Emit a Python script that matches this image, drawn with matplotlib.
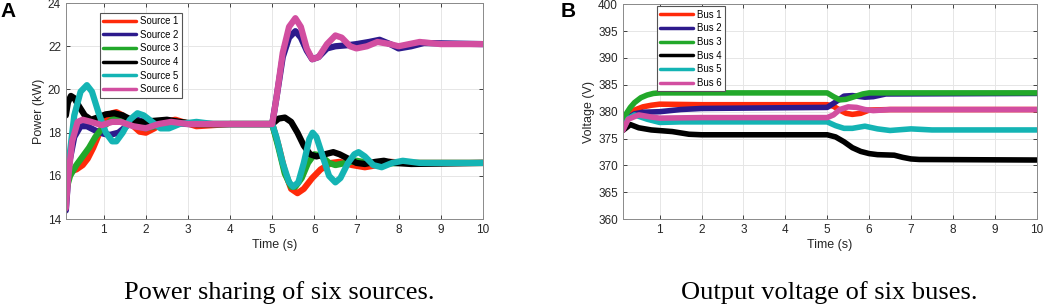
import matplotlib
matplotlib.use("Agg")
import matplotlib.pyplot as plt

# colours (MATLAB-ish)
colors = ["#ff2a0a", "#2d1a8c", "#22a82a", "#000000", "#14b4b4", "#d24ea0"]

# ---- Panel A: power of six sources (kW) ----
source_labels = ["Source 1", "Source 2", "Source 3", "Source 4", "Source 5", "Source 6"]

t_s1 = [0.1, 0.2, 0.35, 0.5, 0.62, 0.75, 0.9, 1.05, 1.2, 1.3, 1.45, 1.65, 1.85, 2.0, 2.2, 2.45, 2.7, 2.95, 3.2, 3.6, 4.0,
        5.0, 5.15, 5.3, 5.45, 5.6, 5.75, 5.95, 6.15, 6.4, 6.6, 6.9, 7.2, 7.5, 7.8, 8.2, 10]
p_s1 = [15.6, 16.2, 16.3, 16.5, 16.8, 17.3, 18.0, 18.6, 18.9, 18.95, 18.8, 18.4, 18.05, 18.0, 18.2, 18.5, 18.6, 18.45, 18.3, 18.35, 18.4,
        18.4, 17.4, 16.2, 15.4, 15.2, 15.4, 15.9, 16.3, 16.6, 16.65, 16.5, 16.4, 16.5, 16.65, 16.6, 16.6]

t_s2 = [0.1, 0.18, 0.3, 0.45, 0.6, 0.8, 1.0, 1.15, 1.35, 1.6, 1.8, 2.0, 2.2, 2.5, 3.0,
        5.0, 5.1, 5.25, 5.4, 5.55, 5.68, 5.82, 5.95, 6.1, 6.3, 6.5, 6.8, 7.0, 7.3, 7.55, 7.8, 8.0, 8.3, 8.6, 10]
p_s2 = [14.4, 16.6, 17.8, 18.3, 18.3, 18.1, 17.95, 17.9, 18.0, 18.4, 18.6, 18.45, 18.3, 18.45, 18.4,
        18.4, 19.6, 21.5, 22.4, 22.7, 22.4, 21.8, 21.4, 21.5, 21.9, 22.0, 22.05, 22.1, 22.2, 22.3, 22.1, 21.9, 22.0, 22.15, 22.1]

t_s3 = [0.1, 0.2, 0.35, 0.5, 0.65, 0.8, 1.0, 1.2, 1.35, 1.55, 1.8, 2.0, 2.3, 2.7, 3.2,
        5.0, 5.15, 5.3, 5.45, 5.55, 5.7, 5.85, 6.0, 6.15, 6.35, 6.5, 6.75, 7.0, 7.3, 7.6, 8.0, 10]
p_s3 = [15.3, 16.0, 16.5, 16.9, 17.3, 17.8, 18.3, 18.6, 18.7, 18.6, 18.3, 18.2, 18.35, 18.5, 18.4,
        18.4, 17.3, 16.1, 15.5, 15.5, 15.9, 16.6, 17.0, 16.95, 16.6, 16.5, 16.6, 16.7, 16.6, 16.55, 16.6, 16.6]

t_s4 = [0.1, 0.15, 0.22, 0.3, 0.42, 0.55, 0.7, 0.85, 1.05, 1.25, 1.45, 1.7, 1.9, 2.2, 2.5, 2.8, 3.2,
        5.0, 5.15, 5.3, 5.45, 5.6, 5.75, 5.9, 6.05, 6.25, 6.45, 6.6, 6.8, 7.0, 7.2, 7.45, 7.65, 7.9, 8.3, 10]
p_s4 = [18.8, 19.4, 19.7, 19.6, 19.2, 18.8, 18.6, 18.7, 18.85, 18.9, 18.8, 18.55, 18.5, 18.55, 18.6, 18.5, 18.4,
        18.4, 18.65, 18.7, 18.5, 18.0, 17.4, 17.0, 16.9, 17.0, 17.1, 17.0, 16.8, 16.6, 16.55, 16.65, 16.7, 16.6, 16.55, 16.6]

t_s5 = [0.1, 0.18, 0.3, 0.45, 0.6, 0.72, 0.88, 1.05, 1.2, 1.3, 1.45, 1.62, 1.8, 1.95, 2.15, 2.35, 2.55, 2.8, 3.2, 3.6,
        5.0, 5.1, 5.25, 5.4, 5.5, 5.62, 5.75, 5.88, 5.96, 6.05, 6.2, 6.35, 6.5, 6.62, 6.8, 6.95, 7.05, 7.2, 7.4, 7.6, 7.85, 8.1, 8.5, 10]
p_s5 = [15.0, 16.8, 18.8, 19.9, 20.2, 19.9, 18.9, 18.0, 17.6, 17.6, 18.0, 18.6, 18.9, 18.8, 18.5, 18.2, 18.2, 18.4, 18.5, 18.4,
        18.4, 17.8, 16.6, 15.7, 15.5, 15.7, 16.6, 17.7, 18.0, 17.8, 16.9, 16.0, 15.7, 15.9, 16.6, 17.0, 17.1, 16.9, 16.5, 16.4, 16.6, 16.7, 16.6, 16.6]

t_s6 = [0.1, 0.15, 0.25, 0.38, 0.5, 0.7, 0.95, 1.2, 1.4, 1.7, 2.0, 2.3, 2.6, 3.0,
        5.0, 5.1, 5.25, 5.4, 5.55, 5.68, 5.82, 5.95, 6.1, 6.3, 6.5, 6.65, 6.85, 7.0, 7.25, 7.5, 7.8, 8.0, 8.5, 9.0, 10]
p_s6 = [14.5, 15.8, 17.6, 18.5, 18.6, 18.5, 18.35, 18.5, 18.5, 18.3, 18.2, 18.4, 18.5, 18.4,
        18.4, 19.6, 21.7, 22.9, 23.3, 22.9, 21.9, 21.4, 21.5, 22.1, 22.5, 22.4, 22.0, 21.9, 22.0, 22.2, 22.1, 22.0, 22.2, 22.1, 22.1]

t_a = [t_s1, t_s2, t_s3, t_s4, t_s5, t_s6]
p_a = [p_s1, p_s2, p_s3, p_s4, p_s5, p_s6]

# ---- Panel B: bus voltages (V) ----
bus_labels = ["Bus 1", "Bus 2", "Bus 3", "Bus 4", "Bus 5", "Bus 6"]

t_b1 = [0.12, 0.25, 0.4, 0.6, 0.8, 1.0, 2.0, 5.0, 5.15, 5.3, 5.45, 5.6, 5.8, 6.0, 6.5, 10]
v_b1 = [377.0, 379.3, 380.3, 380.9, 381.2, 381.4, 381.3, 381.3, 381.0, 380.3, 379.7, 379.5, 379.7, 380.3, 380.4, 380.4]

t_b2 = [0.12, 0.25, 0.4, 0.6, 1.0, 1.5, 2.0, 5.0, 5.2, 5.4, 5.6, 5.9, 6.1, 6.4, 10]
v_b2 = [377.0, 378.9, 379.6, 379.9, 380.0, 380.4, 380.6, 380.8, 381.8, 382.9, 383.0, 382.7, 382.8, 383.3, 383.4]

t_b3 = [0.12, 0.2, 0.3, 0.4, 0.55, 0.7, 0.85, 1.0, 2.0, 5.0, 5.15, 5.3, 5.45, 5.65, 5.85, 6.0, 10]
v_b3 = [378.0, 379.6, 380.8, 381.7, 382.6, 383.1, 383.4, 383.5, 383.5, 383.5, 382.8, 382.2, 382.3, 382.8, 383.3, 383.5, 383.5]

t_b4 = [0.12, 0.3, 0.5, 0.8, 1.3, 1.7, 2.0, 5.0, 5.2, 5.4, 5.6, 5.8, 6.0, 6.2, 6.6, 6.8, 7.0, 7.2, 10]
v_b4 = [376.5, 377.6, 377.0, 376.6, 376.3, 375.8, 375.7, 375.7, 375.3, 374.4, 373.3, 372.6, 372.2, 372.0, 371.9, 371.5, 371.2, 371.1, 371.0]

t_b5 = [0.12, 0.25, 0.4, 0.7, 1.0, 1.5, 5.0, 5.2, 5.4, 5.6, 5.9, 6.2, 6.5, 7.0, 7.5, 10]
v_b5 = [376.8, 378.7, 379.4, 378.6, 378.0, 378.1, 378.1, 377.4, 376.9, 376.9, 377.3, 376.8, 376.5, 376.8, 376.6, 376.6]

t_b6 = [0.12, 0.25, 0.5, 0.8, 1.0, 2.0, 5.0, 5.15, 5.3, 5.5, 5.7, 5.9, 6.1, 6.5, 10]
v_b6 = [376.5, 378.6, 379.4, 379.0, 378.8, 378.9, 378.9, 379.4, 380.4, 380.9, 380.8, 380.4, 380.2, 380.4, 380.4]

t_b = [t_b1, t_b2, t_b3, t_b4, t_b5, t_b6]
v_b = [v_b1, v_b2, v_b3, v_b4, v_b5, v_b6]

plt.rcParams["font.family"] = ["Liberation Sans", "DejaVu Sans"]
tick_col = "#262626"

fig = plt.figure(figsize=(10.45, 3.06), dpi=100)
ax1 = fig.add_axes([0.063, 0.284, 0.399, 0.706])
ax2 = fig.add_axes([0.596, 0.284, 0.396, 0.702])


def style(ax):
    ax.grid(True, color="#e6e6e6", linewidth=0.7)
    ax.set_axisbelow(True)
    ax.tick_params(direction="in", top=True, right=True, labelsize=8.5,
                   colors=tick_col, length=3, width=0.6)
    for s in ax.spines.values():
        s.set_color("#8a8a8a")
        s.set_linewidth(0.7)


def legend(ax, anchor):
    leg = ax.legend(loc="upper left", bbox_to_anchor=anchor, fontsize=6.9,
                    handlelength=3.4, handletextpad=0.4, labelspacing=0.38,
                    borderpad=0.35, borderaxespad=0, fancybox=False,
                    framealpha=1, edgecolor="#555555")
    for h in leg.get_lines():
        h.set_linewidth(2.5)
    leg.get_frame().set_linewidth(0.8)


for t, p, c, lab in zip(t_a, p_a, colors, source_labels):
    ax1.plot(t, p, color=c, lw=4.5, label=lab, solid_capstyle="round", solid_joinstyle="round")
ax1.set_xlim(0.1, 10)
ax1.set_ylim(14, 24)
ax1.set_xticks(range(1, 11))
ax1.set_yticks(range(14, 25, 2))
ax1.set_xlabel("Time (s)", fontsize=9, color=tick_col, labelpad=2)
ax1.set_ylabel("Power (kW)", fontsize=9, color=tick_col, labelpad=2)
style(ax1)
legend(ax1, (0.082, 0.955))

for t, v, c, lab in zip(t_b, v_b, colors, bus_labels):
    ax2.plot(t, v, color=c, lw=4.0, label=lab, solid_capstyle="round", solid_joinstyle="round")
ax2.set_xlim(0.12, 10)
ax2.set_ylim(360, 400)
ax2.set_xticks(range(1, 11))
ax2.set_yticks(range(360, 401, 5))
ax2.set_xlabel("Time (s)", fontsize=9, color=tick_col, labelpad=2)
ax2.set_ylabel("Voltage (V)", fontsize=9, color=tick_col, labelpad=2)
style(ax2)
legend(ax2, (0.082, 0.99))

fig.text(0.0, 0.962, "A", fontsize=15, fontweight="bold", ha="left", va="center")
fig.text(0.5365, 0.962, "B", fontsize=15, fontweight="bold", ha="left", va="center")

fig.text(0.2675, 0.023, "Power sharing of six sources.", fontsize=19,
         family="Liberation Serif", ha="center", va="baseline")
fig.text(0.794, 0.023, "Output voltage of six buses.", fontsize=19,
         family="Liberation Serif", ha="center", va="baseline")

fig.savefig("out.png", dpi=100)
